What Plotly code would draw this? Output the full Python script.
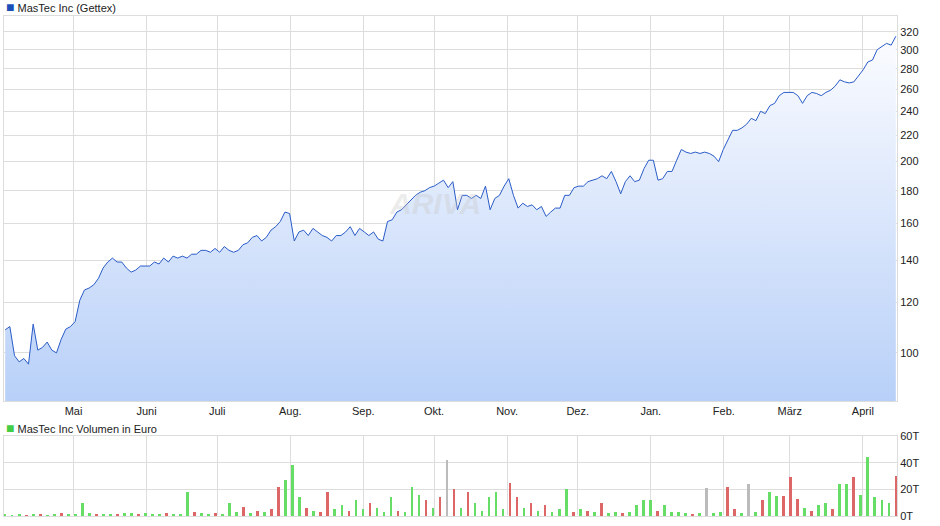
import numpy as np
import pandas as pd
import plotly.graph_objects as go

start = pd.Timestamp("2025-04-02")
end = pd.Timestamp("2026-04-15")

prices = [108.7, 110, 99, 96.8, 98, 96, 111, 101, 102, 104, 101, 100, 105, 109, 110, 112,
          121, 125.6, 126.5, 128, 131, 136, 139, 141, 139, 139, 136, 134, 135, 137, 137, 137,
          139, 138, 141, 139, 142, 141, 142, 141, 143, 143, 145, 145, 144, 146, 144, 147,
          145, 144, 145, 148, 149, 152, 153, 150, 152, 156, 158, 161, 166.6, 165.7, 150, 155,
          156, 153, 157, 155, 153, 152, 150, 153, 153, 155, 158, 153, 157, 155, 153, 155,
          151, 150, 161, 162, 166.6, 168, 171, 174, 177, 179, 180, 182, 183, 185, 187, 182,
          186, 168, 177, 177, 175, 177, 175, 183, 168, 175, 177, 183, 188, 177, 169, 172,
          170, 171, 168, 170, 164, 166.6, 169, 169, 177, 177, 182, 183, 183, 186, 187, 188,
          190, 188, 193, 186, 178, 186, 190, 186, 187, 195, 201, 201, 187, 188, 193, 193,
          201, 209, 207, 206, 207, 206, 207, 206, 204, 200, 209, 216, 224, 224, 226, 229,
          234, 232, 240, 238, 245, 247, 254, 257, 257, 257, 254, 247, 254, 257, 256, 254,
          257, 259, 263, 269, 267, 266, 267, 273, 279, 287, 289, 300, 303, 307, 305, 315]

vol = [1, 0.5, 1, 0.5, 1, 1, 0.5, 1, 2, 1, 1, 10, 2, 1, 1, 1,
       1, 2, 2, 1, 2, 1, 1, 2, 1, 1, 18, 3, 2, 1, 2, 1,
       10, 3, 7, 2, 4, 3, 5, 22, 27, 38, 14, 6, 4, 3, 18, 5,
       8, 4, 12, 5, 10, 6, 3, 14, 4, 3, 22, 16, 12, 6, 14, 42,
       20, 6, 18, 10, 4, 14, 18, 5, 25, 14, 6, 10, 4, 8, 3, 5,
       20, 3, 5, 4, 3, 10, 2, 3, 2, 3, 8, 12, 12, 4, 8, 3,
       3, 2, 1, 2, 21, 2, 3, 22, 5, 2, 24, 3, 12, 18, 15, 15,
       29, 13, 6, 4, 8, 10, 5, 24, 24, 29, 16, 44, 14, 12, 10, 30]
vol_dir = ("gggrgrggrggggrgg" "rggrgggrgggrggrg" "ggrgrgrrgggrgrrg" "grggrgggrgggrgrn"
           "rgrgggggrrgrgrgg" "grgrgrggrggggrgg" "ggrgnggrrgngrggr" "rrgrggrggrgggggr")

month_ticks = ["2025-05-01", "2025-06-01", "2025-07-01", "2025-08-01", "2025-09-01", "2025-10-01",
               "2025-11-01", "2025-12-01", "2026-01-01", "2026-02-01", "2026-03-01", "2026-04-01"]
month_labels = ["Mai", "Juni", "Juli", "Aug.", "Sep.", "Okt.", "Nov.", "Dez.", "Jan.", "Feb.", "März", "April"]

y_min = 84.0
dates = pd.to_datetime(np.linspace(start.value, end.value, len(prices)))
n = min(len(vol), len(vol_dir))
vdates = pd.to_datetime(np.linspace(start.value, end.value, n))
cmap = {"g": "#66dd66", "r": "#dd6666", "n": "#bbbbbb"}
vcolors = [cmap[c] for c in vol_dir[:n]]

fig = go.Figure()
# invisible baseline at the bottom of the log axis so the fill stops there
fig.add_trace(go.Scatter(x=dates, y=[y_min] * len(dates), mode="lines", line=dict(width=0),
                         hoverinfo="skip", xaxis="x", yaxis="y"))
fig.add_trace(go.Scatter(x=dates, y=prices, mode="lines", line=dict(color="#2a5cc8", width=1),
                         fill="tonexty",
                         fillgradient=dict(type="vertical", colorscale=[[0, "#b8d0f8"], [1, "#fbfcff"]]),
                         xaxis="x", yaxis="y", hoverinfo="x+y"))
fig.add_trace(go.Bar(x=vdates, y=vol[:n], marker=dict(color=vcolors, line_width=0), width=86400000 * 1.1,
                     xaxis="x2", yaxis="y2"))

grid = "#dddddd"
font = dict(family="Liberation Sans, Arial", size=11, color="#222")
xr = [start - pd.Timedelta(hours=12), end + pd.Timedelta(hours=12)]
fig.update_layout(
    width=940, height=526, margin=dict(l=4, r=43, t=0, b=0, autoexpand=False), showlegend=False,
    plot_bgcolor="white", paper_bgcolor="white", font=font, bargap=0,
    xaxis=dict(domain=[0, 1], range=xr, tickvals=month_ticks, ticktext=month_labels, automargin=False,
               showgrid=True, gridcolor=grid, showline=True, linecolor=grid, mirror=True, ticks="",
               anchor="y"),
    yaxis=dict(domain=[1 - 401 / 526, 1 - 16 / 526], type="log", range=[np.log10(y_min), np.log10(339)],
               tickvals=[100, 120, 140, 160, 180, 200, 220, 240, 260, 280, 300, 320], automargin=False,
               side="right", showgrid=True, gridcolor=grid, showline=True, linecolor=grid, mirror=True,
               ticks="", anchor="x"),
    xaxis2=dict(domain=[0, 1], range=xr, tickvals=month_ticks, showticklabels=False, automargin=False,
                showgrid=True, gridcolor=grid, showline=True, linecolor=grid, mirror=True, anchor="y2"),
    yaxis2=dict(domain=[1 - 516 / 526, 1 - 436 / 526], range=[0, 60], tickvals=[0, 20, 40, 60],
                ticktext=["0T", "20T", "40T", "60T"], automargin=False,
                side="right", showgrid=True, gridcolor=grid, showline=True,
                linecolor=grid, mirror=True, ticks="", anchor="x2"),
)

fig.add_annotation(xref="paper", yref="paper", x=0, y=1 - 7 / 526, xanchor="left", yanchor="middle",
                   text="<span style='color:#1a4fb8;font-size:14px'>■</span> MasTec Inc (Gettex)",
                   showarrow=False, font=font)
fig.add_annotation(xref="paper", yref="paper", x=0, y=1 - 428 / 526, xanchor="left", yanchor="middle",
                   text="<span style='color:#44cc44;font-size:14px'>■</span> MasTec Inc Volumen in Euro",
                   showarrow=False, font=font)
fig.add_annotation(xref="paper", yref="paper", x=431 / 893, y=1 - 203 / 526, text="<b><i>ARIVA</i></b>",
                   showarrow=False, font=dict(family="Liberation Sans", size=30, color="rgba(200,200,200,0.35)"))

fig.write_html("out.html", config={"displayModeBar": False},
               post_script="document.body.style.margin='0';")
